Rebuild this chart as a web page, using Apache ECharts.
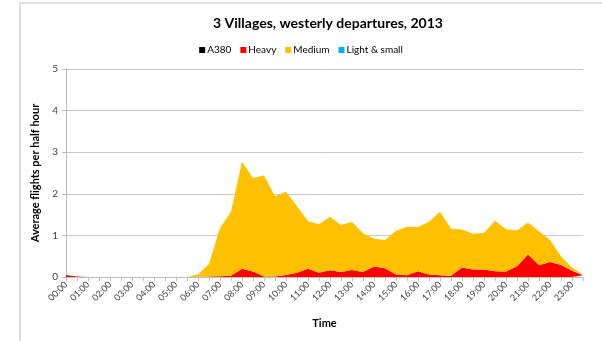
<!DOCTYPE html>
<html>
<head>
<meta charset="utf-8">
<script src="https://cdn.jsdelivr.net/npm/echarts@6/dist/echarts.min.js"></script>
<style>
  html, body { margin: 0; padding: 0; background: #fff; }
  #chart { width: 602px; height: 341px; }
</style>
</head>
<body>
<div id="chart"></div>
<script>
// half-hour slots, labels shown every hour
var times = [];
for (var h = 0; h < 24; h++) {
    var hh = (h < 10 ? '0' : '') + h;
    times.push(hh + ':00');
    times.push(hh + ':30');
}

var seriesNames = ['A380', 'Heavy', 'Medium', 'Light & small'];

var a380 = [0,0,0,0,0,0,0,0,0,0,0,0,0,0,0,0,0,0,0,0,0,0,0,0,
            0,0,0,0,0,0,0,0,0,0,0,0,0,0,0,0,0,0,0,0,0,0,0,0];

var heavy = [0.05,0.01,0,0,0,0,0,0,0,0,0,0,
             0,0.01,0.02,0.03,0.20,0.13,0.01,0.01,0.05,0.10,0.20,0.10,
             0.16,0.12,0.17,0.12,0.25,0.21,0.06,0.04,0.14,0.06,0.04,0.03,
             0.23,0.18,0.18,0.14,0.13,0.26,0.54,0.28,0.36,0.29,0.15,0.04];

var medium = [0,0,0,0,0,0,0,0,0,0,0,0,
              0.06,0.30,1.16,1.54,2.57,2.25,2.43,1.93,2.00,1.60,1.14,1.17,
              1.29,1.13,1.15,0.93,0.67,0.68,1.05,1.17,1.06,1.27,1.53,1.13,
              0.91,0.86,0.88,1.21,1.02,0.86,0.77,0.82,0.53,0.21,0.07,0.03];

var lightSmall = [0,0,0,0,0,0,0,0,0,0,0,0,0,0,0,0,0,0,0,0,0,0,0,0,
                  0,0,0,0,0,0,0,0,0,0,0,0,0,0,0,0,0,0,0,0,0,0,0,0];

var colors = ['#000000', '#ff0000', '#ffc000', '#00b0f0'];
var allData = [a380, heavy, medium, lightSmall];

var font = 'Lato, "Open Sans", sans-serif';

var series = [];
for (var s = 0; s < seriesNames.length; s++) {
    series.push({
        name: seriesNames[s],
        type: 'line',
        stack: 'total',
        symbol: 'none',
        lineStyle: { width: 0 },
        areaStyle: { color: colors[s], opacity: 1 },
        itemStyle: { color: colors[s] },
        data: allData[s]
    });
}

var option = {
    animation: false,
    title: {
        text: '3 Villages, westerly departures, 2013',
        left: 323,
        top: 11,
        textAlign: 'center',
        textStyle: {
            color: '#000',
            fontSize: 14,
            fontWeight: 'bold',
            fontFamily: font
        }
    },
    legend: {
        data: seriesNames,
        left: 'center',
        top: 40,
        itemWidth: 6,
        itemHeight: 6,
        itemGap: 9,
        icon: 'rect',
        textStyle: { color: '#000', fontSize: 10, fontFamily: font, padding: [0, 0, 0, -3] }
    },
    grid: {
        left: 66,
        right: 19,
        top: 69,
        bottom: 64,
        containLabel: false
    },
    xAxis: {
        type: 'category',
        data: times,
        boundaryGap: false,
        name: 'Time',
        nameLocation: 'middle',
        nameGap: 41,
        nameTextStyle: { color: '#000', fontSize: 11, fontWeight: 'bold', fontFamily: font },
        axisLine: { lineStyle: { color: '#bfbfbf' } },
        axisTick: { show: true, interval: 0, length: 4, lineStyle: { color: '#bfbfbf' } },
        axisLabel: {
            interval: 1,
            rotate: 45,
            color: '#404040',
            fontSize: 9,
            fontFamily: font,
            margin: 6
        }
    },
    yAxis: {
        type: 'value',
        min: 0,
        max: 5,
        interval: 1,
        name: 'Average flights per half hour',
        nameLocation: 'middle',
        nameGap: 19,
        nameTextStyle: { color: '#000', fontSize: 11, fontWeight: 'bold', fontFamily: font },
        axisLine: { show: true, lineStyle: { color: '#bfbfbf' } },
        axisTick: { show: true, length: 4, lineStyle: { color: '#bfbfbf' } },
        axisLabel: { color: '#404040', fontSize: 10, fontFamily: font, margin: 8 },
        splitLine: { lineStyle: { color: '#c8c8c8', width: 1 } }
    },
    graphic: [
        { type: 'line', shape: { x1: 20, y1: 3, x2: 602, y2: 3 }, style: { stroke: '#bdbdbd', lineWidth: 1 } },
        { type: 'line', shape: { x1: 20, y1: 3, x2: 20, y2: 341 }, style: { stroke: '#bdbdbd', lineWidth: 1 } }
    ],
    series: series
};

var chart = echarts.init(document.getElementById('chart'));
chart.setOption(option);
</script>
</body>
</html>
